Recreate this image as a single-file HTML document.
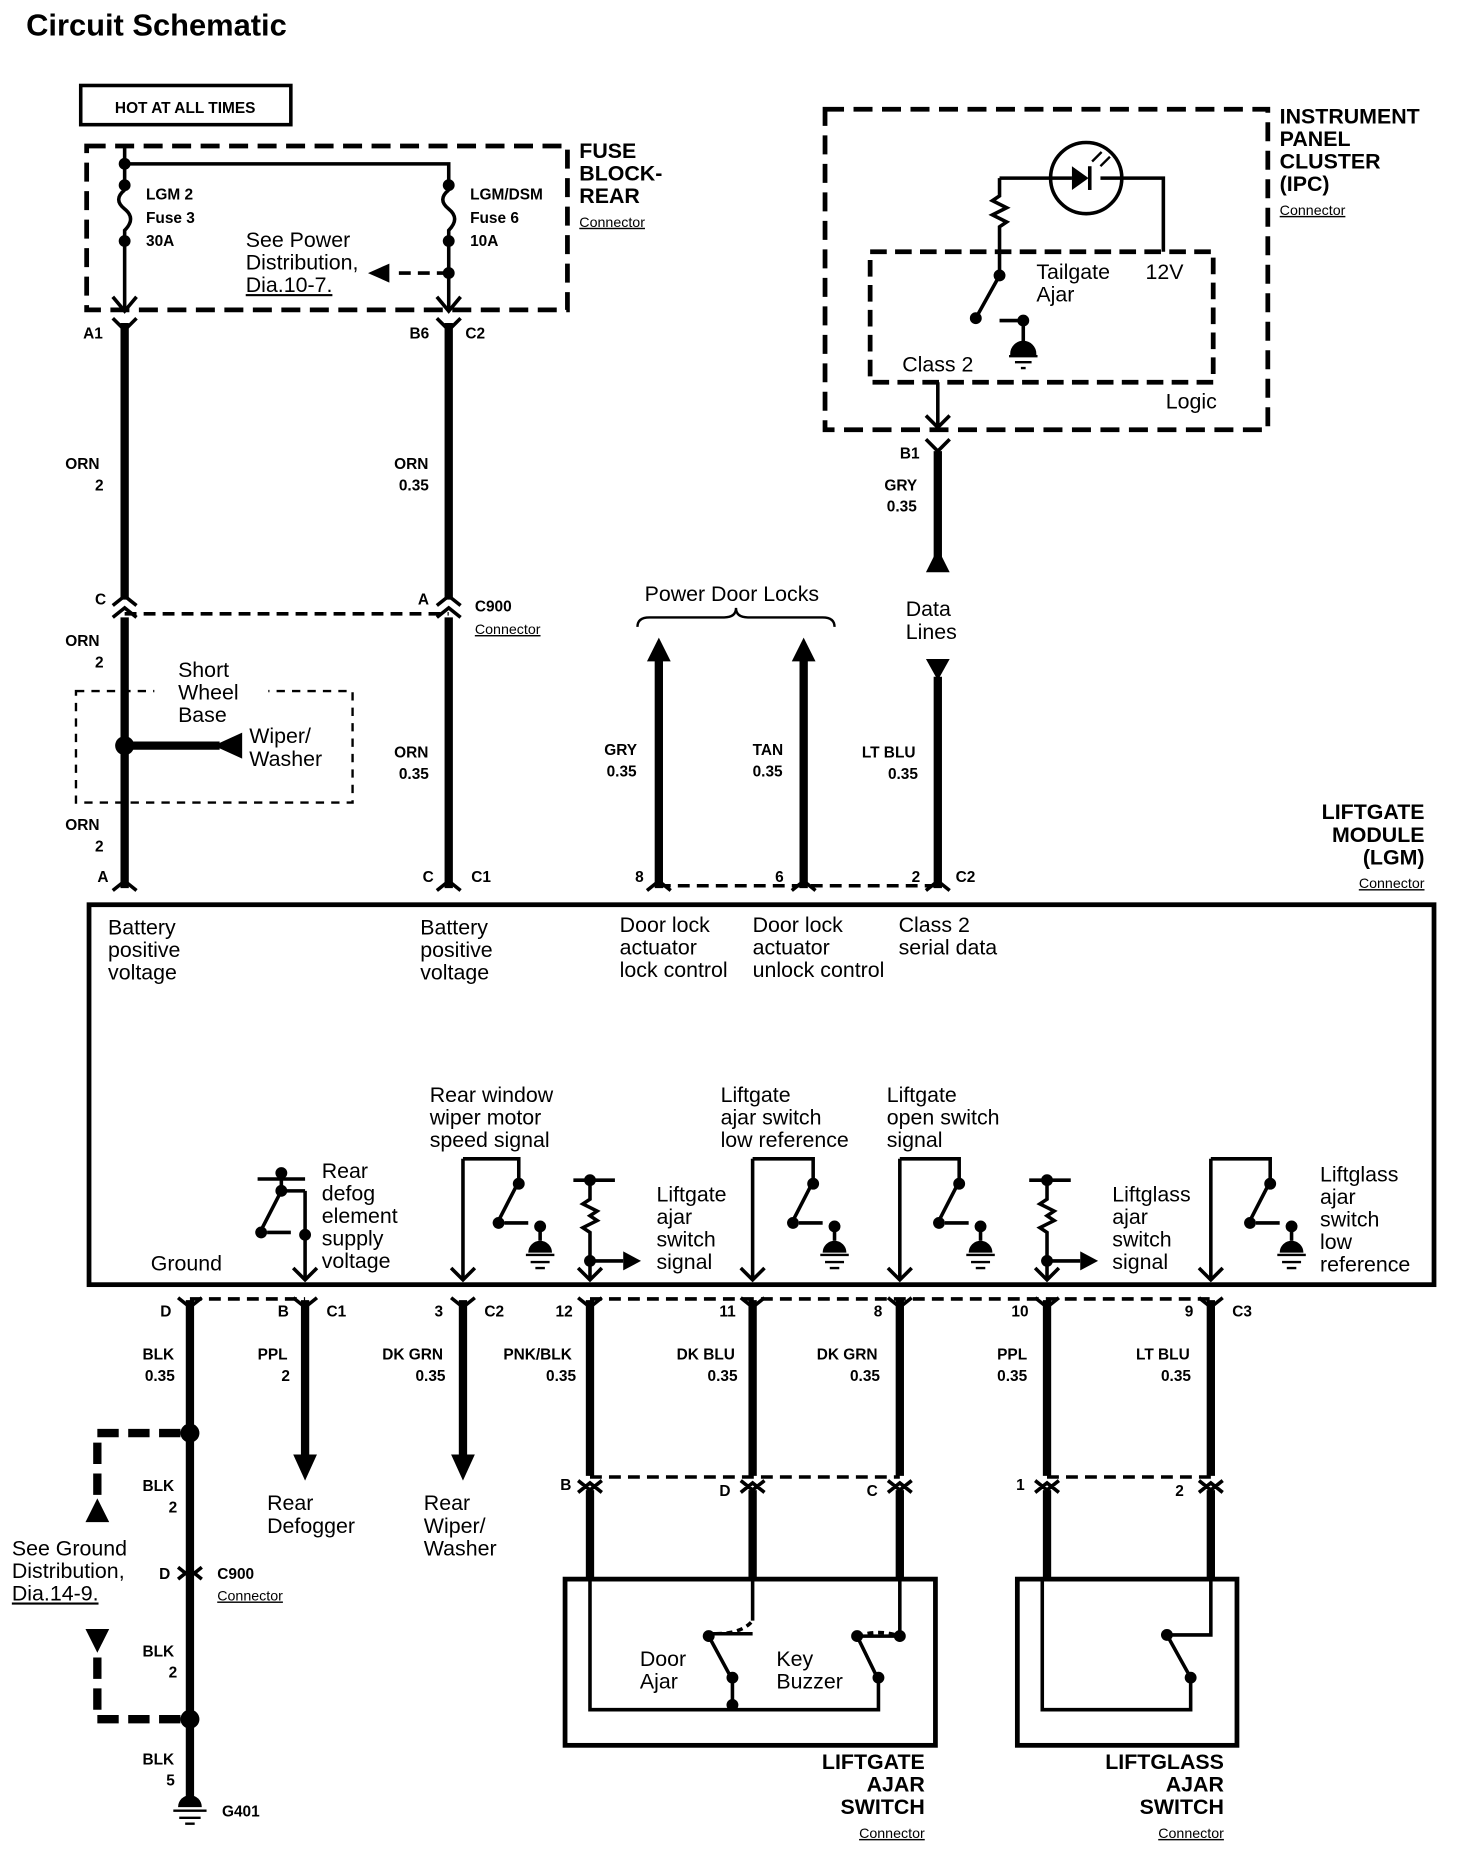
<!DOCTYPE html>
<html><head><style>
html,body{margin:0;padding:0;background:#fff}
svg{display:block}
text{font-family:"Liberation Sans",Arial,sans-serif;fill:#000}
.b{font-weight:bold;font-size:13px}
.n{font-size:18px}
.h{font-weight:bold;font-size:18px}
.u{font-size:12px;text-decoration:underline}
</style></head><body>
<svg width="1472" height="1870" viewBox="0 0 1240 1575" preserveAspectRatio="none" xmlns="http://www.w3.org/2000/svg">
<rect width="1240" height="1575" fill="#fff"/>
<text x="22" y="30" style="font-weight:bold;font-size:26px">Circuit Schematic</text>
<rect x="68" y="72" width="177" height="33" fill="none" stroke="#000" stroke-width="3"/>
<text x="156" y="95" class="b" text-anchor="middle">HOT AT ALL TIMES</text>

<!-- Fuse block -->
<rect x="73" y="123" width="405" height="138" fill="none" stroke="#000" stroke-width="4" stroke-dasharray="16,8"/>
<g stroke="#000" stroke-width="3" fill="none">
<path d="M105 123 V160 M105 138 H378 V160 M378 138 V160"/>
<path d="M105 160 q-10 8 0 16 q10 8 0 18 V260 M378 160 q-10 8 0 16 q10 8 0 18 V260"/>
<path d="M95 250 L105 262 L115 250 M368 250 L378 262 L388 250"/>
<path d="M378 230 H330" stroke-dasharray="10,6"/>
</g>
<g fill="#000"><circle cx="105" cy="138" r="5"/><circle cx="105" cy="156" r="5"/><circle cx="105" cy="203" r="5"/>
<circle cx="378" cy="156" r="5"/><circle cx="378" cy="203" r="5"/><circle cx="378" cy="230" r="5"/>
<polygon points="310,230 328,222 328,238"/></g>
<text x="123" y="168" class="b">LGM 2</text><text x="123" y="188" class="b">Fuse 3</text><text x="123" y="207" class="b">30A</text>
<text x="396" y="168" class="b">LGM/DSM</text><text x="396" y="188" class="b">Fuse 6</text><text x="396" y="207" class="b">10A</text>
<text x="207" y="208" class="n">See Power</text><text x="207" y="227" class="n">Distribution,</text><text x="207" y="246" class="n" text-decoration="underline">Dia.10-7.</text>
<text x="488" y="133" class="h">FUSE</text><text x="488" y="152" class="h">BLOCK-</text><text x="488" y="171" class="h">REAR</text><text x="488" y="191" class="u">Connector</text>

<!-- Left vertical wires -->
<g stroke="#000" stroke-width="7" fill="none">
<path d="M105 272 V505 M105 520 V748 M378 272 V505 M378 520 V748"/>
<path d="M555 555 V748 M677 555 V748 M790 570 V748 M790 380 V470"/>
</g>
<g stroke="#000" stroke-width="3" fill="none">
<path d="M95 268 L105 278 L115 268 M368 268 L378 278 L388 268"/>
<path d="M95 510 L105 502 L115 510 M95 520 L105 512 L115 520 M368 510 L378 502 L388 510 M368 520 L378 512 L388 520"/>
<path d="M105 517 H378" stroke-dasharray="10,6"/>
<path d="M95 750 L105 742 L115 750 M368 750 L378 742 L388 750 M545 750 L555 742 L565 750 M667 750 L677 742 L687 750 M780 750 L790 742 L800 750"/>
<path d="M555 746 H790" stroke-dasharray="10,6"/>
<path d="M780 370 L790 380 L800 370"/>
</g>
<text x="70" y="285" class="b">A1</text><text x="345" y="285" class="b">B6</text><text x="392" y="285" class="b">C2</text>
<text x="55" y="395" class="b">ORN</text><text x="80" y="413" class="b">2</text>
<text x="332" y="395" class="b">ORN</text><text x="336" y="413" class="b">0.35</text>
<text x="80" y="509" class="b">C</text><text x="352" y="509" class="b">A</text><text x="400" y="515" class="b">C900</text><text x="400" y="534" class="u">Connector</text>
<text x="55" y="544" class="b">ORN</text><text x="80" y="562" class="b">2</text>
<text x="332" y="638" class="b">ORN</text><text x="336" y="656" class="b">0.35</text>
<text x="55" y="699" class="b">ORN</text><text x="80" y="717" class="b">2</text>
<text x="82" y="743" class="b">A</text><text x="356" y="743" class="b">C</text><text x="397" y="743" class="b">C1</text>
<rect x="64" y="582" width="233" height="94" fill="none" stroke="#000" stroke-width="2" stroke-dasharray="7,6"/>
<rect x="130" y="570" width="96" height="45" fill="#fff"/>
<text x="150" y="570" class="n">Short</text><text x="150" y="589" class="n">Wheel</text><text x="150" y="608" class="n">Base</text>
<circle cx="105" cy="628" r="8" fill="#000"/>
<path d="M105 628 H185" stroke="#000" stroke-width="7"/>
<polygon points="180,628 204,617 204,639" fill="#000"/>
<text x="210" y="626" class="n">Wiper/</text><text x="210" y="645" class="n">Washer</text>

<!-- Power door locks -->
<text x="543" y="506" class="n">Power Door Locks</text>
<path d="M537 528 q0 -8 10 -8 H610 q10 0 10 -8 q0 8 10 8 H693 q10 0 10 8" fill="none" stroke="#000" stroke-width="2"/>
<polygon points="555,537 545,557 565,557" fill="#000"/><polygon points="677,537 667,557 687,557" fill="#000"/>
<text x="509" y="636" class="b">GRY</text><text x="511" y="654" class="b">0.35</text>
<text x="634" y="636" class="b">TAN</text><text x="634" y="654" class="b">0.35</text>
<text x="726" y="638" class="b">LT BLU</text><text x="748" y="656" class="b">0.35</text>
<text x="535" y="743" class="b">8</text><text x="653" y="743" class="b">6</text><text x="768" y="743" class="b">2</text><text x="805" y="743" class="b">C2</text>
<text x="763" y="519" class="n">Data</text><text x="763" y="538" class="n">Lines</text>
<polygon points="790,462 780,482 800,482" fill="#000"/>
<polygon points="780,555 800,555 790,573" fill="#000"/>
<text x="758" y="386" class="b">B1</text><text x="745" y="413" class="b">GRY</text><text x="747" y="431" class="b">0.35</text>

<!-- IPC -->
<rect x="695" y="92" width="373" height="270" fill="none" stroke="#000" stroke-width="4" stroke-dasharray="16,8"/>
<rect x="733" y="212" width="289" height="110" fill="none" stroke="#000" stroke-width="4" stroke-dasharray="14,7"/>
<text x="1078" y="104" class="h">INSTRUMENT</text><text x="1078" y="123" class="h">PANEL</text><text x="1078" y="142" class="h">CLUSTER</text><text x="1078" y="161" class="h">(IPC)</text><text x="1078" y="181" class="u">Connector</text>
<circle cx="915" cy="150" r="30" fill="none" stroke="#000" stroke-width="3"/>
<g stroke="#000" stroke-width="3" fill="none">
<path d="M842 150 H903 M927 150 H980 V212 M842 150 V165 l-6 4 l12 6 l-12 6 l12 6 l-6 4 V230"/>
<path d="M842 232 L822 268 M842 270 H858 M862 270 V290" />
<path d="M790 322 V360 M780 350 L790 360 L800 350"/>
</g>
<polygon points="903,140 903,160 917,150" fill="#000"/><path d="M918 140 V160" stroke="#000" stroke-width="3"/>
<path d="M920 136 l8 -8 M927 140 l8 -8" stroke="#000" stroke-width="2"/>
<circle cx="842" cy="232" r="5" fill="#000"/><circle cx="822" cy="268" r="5" fill="#000"/><circle cx="862" cy="270" r="5" fill="#000"/>
<path d="M852 298 a10 10 0 0 1 20 0 Z M850 300 H874 M855 305 H869 M860 310 H864" stroke="#000" stroke-width="2" fill="#000"/>
<text x="873" y="235" class="n">Tailgate</text><text x="873" y="254" class="n">Ajar</text><text x="965" y="235" class="n">12V</text>
<text x="760" y="313" class="n">Class 2</text><text x="982" y="344" class="n">Logic</text>

<!-- LGM -->
<text x="1200" y="690" class="h" text-anchor="end">LIFTGATE</text><text x="1200" y="709" class="h" text-anchor="end">MODULE</text><text x="1200" y="728" class="h" text-anchor="end">(LGM)</text><text x="1200" y="748" class="u" text-anchor="end">Connector</text>
<rect x="75" y="762" width="1133" height="320" fill="none" stroke="#000" stroke-width="4"/>
<g class="n">
<text x="91" y="787" class="n">Battery</text><text x="91" y="806" class="n">positive</text><text x="91" y="825" class="n">voltage</text>
<text x="354" y="787" class="n">Battery</text><text x="354" y="806" class="n">positive</text><text x="354" y="825" class="n">voltage</text>
<text x="522" y="785" class="n">Door lock</text><text x="522" y="804" class="n">actuator</text><text x="522" y="823" class="n">lock control</text>
<text x="634" y="785" class="n">Door lock</text><text x="634" y="804" class="n">actuator</text><text x="634" y="823" class="n">unlock control</text>
<text x="757" y="785" class="n">Class 2</text><text x="757" y="804" class="n">serial data</text>
<text x="362" y="928" class="n">Rear window</text><text x="362" y="947" class="n">wiper motor</text><text x="362" y="966" class="n">speed signal</text>
<text x="607" y="928" class="n">Liftgate</text><text x="607" y="947" class="n">ajar switch</text><text x="607" y="966" class="n">low reference</text>
<text x="747" y="928" class="n">Liftgate</text><text x="747" y="947" class="n">open switch</text><text x="747" y="966" class="n">signal</text>
<text x="271" y="992" class="n">Rear</text><text x="271" y="1011" class="n">defog</text><text x="271" y="1030" class="n">element</text><text x="271" y="1049" class="n">supply</text><text x="271" y="1068" class="n">voltage</text>
<text x="127" y="1070" class="n">Ground</text>
<text x="553" y="1012" class="n">Liftgate</text><text x="553" y="1031" class="n">ajar</text><text x="553" y="1050" class="n">switch</text><text x="553" y="1069" class="n">signal</text>
<text x="937" y="1012" class="n">Liftglass</text><text x="937" y="1031" class="n">ajar</text><text x="937" y="1050" class="n">switch</text><text x="937" y="1069" class="n">signal</text>
<text x="1112" y="995" class="n">Liftglass</text><text x="1112" y="1014" class="n">ajar</text><text x="1112" y="1033" class="n">switch</text><text x="1112" y="1052" class="n">low</text><text x="1112" y="1071" class="n">reference</text>
</g>
<!-- switches inside LGM -->
<g stroke="#000" stroke-width="3" fill="none">
<path d="M390 976 V1078 M390 976 H437 V995 L420 1028 M425 1030 H445 M455 1030 V1045"/>
<path d="M634 976 V1078 M634 976 H685 V995 L668 1028 M673 1030 H693 M703 1030 V1045"/>
<path d="M758 976 V1078 M758 976 H808 V995 L791 1028 M796 1030 H816 M826 1030 V1045"/>
<path d="M1020 976 V1078 M1020 976 H1070 V995 L1053 1028 M1058 1030 H1078 M1088 1030 V1045"/>
<path d="M217 993 H257 M237 987 V1003 L220 1036 M225 1038 H245 M257 1003 V1040 V1078 M237 1003 H257"/>
<path d="M483 994 H518 M497 994 V1010 l-6 4 l12 6 l-6 4 l6 4 l-12 6 l6 4 V1062 V1078 M497 1062 H525"/>
<path d="M867 994 H902 M882 994 V1010 l-6 4 l12 6 l-6 4 l6 4 l-12 6 l6 4 V1062 V1078 M882 1062 H910"/>
<path d="M380 1068 L390 1078 L400 1068 M624 1068 L634 1078 L644 1068 M748 1068 L758 1078 L768 1068 M1010 1068 L1020 1078 L1030 1068 M247 1068 L257 1078 L267 1068 M487 1068 L497 1078 L507 1068 M872 1068 L882 1078 L892 1068"/>
</g>
<g fill="#000">
<circle cx="437" cy="997" r="5"/><circle cx="420" cy="1030" r="5"/><circle cx="455" cy="1033" r="5"/>
<circle cx="685" cy="997" r="5"/><circle cx="668" cy="1030" r="5"/><circle cx="703" cy="1033" r="5"/>
<circle cx="808" cy="997" r="5"/><circle cx="791" cy="1030" r="5"/><circle cx="826" cy="1033" r="5"/>
<circle cx="1070" cy="997" r="5"/><circle cx="1053" cy="1030" r="5"/><circle cx="1088" cy="1033" r="5"/>
<circle cx="237" cy="988" r="5"/><circle cx="237" cy="1003" r="5"/><circle cx="220" cy="1038" r="5"/><circle cx="257" cy="1040" r="5"/>
<circle cx="497" cy="994" r="5"/><circle cx="497" cy="1062" r="5"/><circle cx="882" cy="994" r="5"/><circle cx="882" cy="1062" r="5"/>
<polygon points="540,1062 525,1054 525,1070"/><polygon points="925,1062 910,1054 910,1070"/>
<path d="M445 1055 a10 10 0 0 1 20 0Z M693 1055 a10 10 0 0 1 20 0Z M816 1055 a10 10 0 0 1 20 0Z M1078 1055 a10 10 0 0 1 20 0Z"/>
</g>
<g stroke="#000" stroke-width="2">
<path d="M443 1057 H467 M447 1063 H463 M451 1068 H459"/>
<path d="M691 1057 H715 M695 1063 H711 M699 1068 H707"/>
<path d="M814 1057 H838 M818 1063 H834 M822 1068 H830"/>
<path d="M1076 1057 H1100 M1080 1063 H1096 M1084 1068 H1092"/>
</g>

<!-- Bottom wires -->
<g stroke="#000" stroke-width="7" fill="none">
<path d="M160 1095 V1515 M257 1095 V1230 M390 1095 V1230 M497 1095 V1243 M497 1255 V1330 M634 1095 V1243 M634 1255 V1330 M758 1095 V1243 M758 1255 V1330 M882 1095 V1243 M882 1255 V1330 M1020 1095 V1243 M1020 1255 V1330"/>
</g>
<g stroke="#000" stroke-width="3" fill="none">
<path d="M150 1093 L160 1101 L170 1093 M247 1093 L257 1101 L267 1093 M380 1093 L390 1101 L400 1093 M487 1093 L497 1101 L507 1093 M624 1093 L634 1101 L644 1093 M748 1093 L758 1101 L768 1093 M872 1093 L882 1101 L892 1093 M1010 1093 L1020 1101 L1030 1093"/>
<path d="M160 1094 H257 M497 1094 H1020" stroke-dasharray="10,6"/>
<path d="M487 1247 L497 1255 L507 1247 M487 1257 L497 1249 L507 1257 M624 1247 L634 1255 L644 1247 M624 1257 L634 1249 L644 1257 M748 1247 L758 1255 L768 1247 M748 1257 L758 1249 L768 1257 M872 1247 L882 1255 L892 1247 M872 1257 L882 1249 L892 1257 M1010 1247 L1020 1255 L1030 1247 M1010 1257 L1020 1249 L1030 1257"/>
<path d="M497 1244 H758 M882 1244 H1020" stroke-dasharray="10,6"/>
<path d="M150 1320 L160 1328 L170 1320 M150 1330 L160 1322 L170 1330"/>
</g>
<polygon points="247,1225 267,1225 257,1247" fill="#000"/>
<polygon points="380,1225 400,1225 390,1247" fill="#000"/>
<text x="135" y="1109" class="b">D</text><text x="234" y="1109" class="b">B</text><text x="275" y="1109" class="b">C1</text>
<text x="366" y="1109" class="b">3</text><text x="408" y="1109" class="b">C2</text><text x="468" y="1109" class="b">12</text>
<text x="606" y="1109" class="b">11</text><text x="736" y="1109" class="b">8</text><text x="852" y="1109" class="b">10</text><text x="998" y="1109" class="b">9</text><text x="1038" y="1109" class="b">C3</text>
<text x="120" y="1145" class="b">BLK</text><text x="122" y="1163" class="b">0.35</text>
<text x="217" y="1145" class="b">PPL</text><text x="237" y="1163" class="b">2</text>
<text x="322" y="1145" class="b">DK GRN</text><text x="350" y="1163" class="b">0.35</text>
<text x="424" y="1145" class="b">PNK/BLK</text><text x="460" y="1163" class="b">0.35</text>
<text x="570" y="1145" class="b">DK BLU</text><text x="596" y="1163" class="b">0.35</text>
<text x="688" y="1145" class="b">DK GRN</text><text x="716" y="1163" class="b">0.35</text>
<text x="840" y="1145" class="b">PPL</text><text x="840" y="1163" class="b">0.35</text>
<text x="957" y="1145" class="b">LT BLU</text><text x="978" y="1163" class="b">0.35</text>
<text x="225" y="1272" class="n">Rear</text><text x="225" y="1291" class="n">Defogger</text>
<text x="357" y="1272" class="n">Rear</text><text x="357" y="1291" class="n">Wiper/</text><text x="357" y="1310" class="n">Washer</text>
<text x="472" y="1255" class="b">B</text><text x="606" y="1260" class="b">D</text><text x="730" y="1260" class="b">C</text><text x="856" y="1255" class="b">1</text><text x="990" y="1260" class="b">2</text>

<!-- ground side -->
<g fill="#000"><circle cx="160" cy="1207" r="8"/><circle cx="160" cy="1448" r="8"/>
<polygon points="82,1262 72,1282 92,1282"/><polygon points="72,1372 92,1372 82,1392"/></g>
<path d="M152 1207 H82 V1262 M152 1448 H82 V1392" stroke="#000" stroke-width="7" fill="none" stroke-dasharray="18,8"/>
<text x="120" y="1256" class="b">BLK</text><text x="142" y="1274" class="b">2</text>
<text x="134" y="1330" class="b">D</text><text x="183" y="1330" class="b">C900</text><text x="183" y="1348" class="u">Connector</text>
<text x="120" y="1395" class="b">BLK</text><text x="142" y="1413" class="b">2</text>
<text x="120" y="1486" class="b">BLK</text><text x="140" y="1504" class="b">5</text>
<text x="10" y="1310" class="n">See Ground</text><text x="10" y="1329" class="n">Distribution,</text><text x="10" y="1348" class="n" text-decoration="underline">Dia.14-9.</text>
<path d="M150 1522 a10 10 0 0 1 20 0Z" fill="#000"/>
<path d="M146 1525 H174 M151 1531 H169 M156 1536 H164" stroke="#000" stroke-width="2"/>
<text x="187" y="1530" class="b">G401</text>

<!-- Switch boxes -->
<rect x="476" y="1330" width="312" height="140" fill="none" stroke="#000" stroke-width="4"/>
<rect x="857" y="1330" width="185" height="140" fill="none" stroke="#000" stroke-width="4"/>
<g stroke="#000" stroke-width="3" fill="none">
<path d="M497 1330 V1440 H740 V1415 M634 1330 V1365 M758 1330 V1378 M617 1440 V1415 L597 1378 M600 1376 H634 M758 1378 H740 L720 1378 M740 1415 L722 1378"/>
<path d="M603 1376 Q625 1376 634 1365" stroke-dasharray="5,4"/>
<path d="M722 1378 Q740 1372 758 1378" stroke-dasharray="5,4"/>
<path d="M878 1330 V1440 H1003 V1413 L983 1377 M1020 1330 V1377 H985" />
</g>
<g fill="#000"><circle cx="617" cy="1436" r="5"/><circle cx="617" cy="1413" r="5"/><circle cx="597" cy="1378" r="5"/>
<circle cx="740" cy="1413" r="5"/><circle cx="722" cy="1378" r="5"/><circle cx="758" cy="1378" r="5"/>
<circle cx="1003" cy="1413" r="5"/><circle cx="983" cy="1377" r="5"/></g>
<text x="539" y="1403" class="n">Door</text><text x="539" y="1422" class="n">Ajar</text>
<text x="654" y="1403" class="n">Key</text><text x="654" y="1422" class="n">Buzzer</text>
<text x="779" y="1490" class="h" text-anchor="end">LIFTGATE</text><text x="779" y="1509" class="h" text-anchor="end">AJAR</text><text x="779" y="1528" class="h" text-anchor="end">SWITCH</text><text x="779" y="1548" class="u" text-anchor="end">Connector</text>
<text x="1031" y="1490" class="h" text-anchor="end">LIFTGLASS</text><text x="1031" y="1509" class="h" text-anchor="end">AJAR</text><text x="1031" y="1528" class="h" text-anchor="end">SWITCH</text><text x="1031" y="1548" class="u" text-anchor="end">Connector</text>
</svg>
</body></html>
